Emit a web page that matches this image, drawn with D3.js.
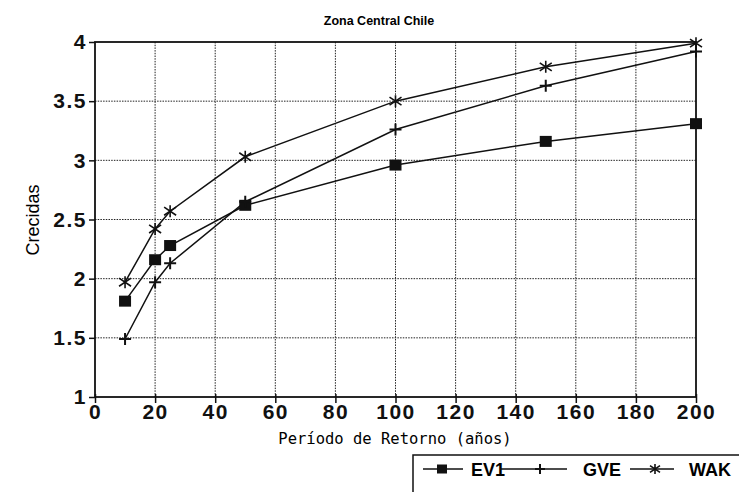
<!DOCTYPE html>
<html lang="es">
<head>
    <meta charset="UTF-8">
    <title>Zona Central Chile</title>
    <script src="https://d3js.org/d3.v7.min.js"></script>
    <style>
        body { margin: 0; background: #fff; }
        svg { display: block; }
        .tick-label { font-family: "Liberation Sans", Arial, sans-serif; font-weight: bold; font-size: 21px; fill: #111; }
        .grid line { stroke: #222; stroke-width: 1; stroke-dasharray: 1.5 1.2; }
    </style>
</head>
<body>
    <svg id="chart" width="739" height="492"></svg>
    <script>
        // Return periods (years)
        const periods = [10, 20, 25, 50, 100, 150, 200];
        // Flood values per method
        const ev1 = [1.81, 2.16, 2.28, 2.62, 2.96, 3.16, 3.31];
        const gve = [1.49, 1.97, 2.13, 2.65, 3.26, 3.63, 3.92];
        const wak = [1.97, 2.42, 2.57, 3.03, 3.50, 3.79, 3.99];
        const seriesNames = ["EV1", "GVE", "WAK"];
        const xTicks = [0, 20, 40, 60, 80, 100, 120, 140, 160, 180, 200];
        const yTicks = [1, 1.5, 2, 2.5, 3, 3.5, 4];

        const svg = d3.select("#chart");
        const margin = { left: 95, right: 43, top: 42, bottom: 95 };
        const width = 739 - margin.left - margin.right;
        const height = 492 - margin.top - margin.bottom;

        const x = d3.scaleLinear().domain([0, 200]).range([0, width]);
        const y = d3.scaleLinear().domain([1, 4]).range([height, 0]);

        const g = svg.append("g").attr("transform", `translate(${margin.left},${margin.top})`);

        // dotted grid
        const grid = g.append("g").attr("class", "grid");
        grid.selectAll("line.v").data(xTicks.slice(1, -1)).enter().append("line")
            .attr("x1", d => x(d)).attr("x2", d => x(d)).attr("y1", 0).attr("y2", height);
        grid.selectAll("line.h").data(yTicks.slice(1, -1)).enter().append("line")
            .attr("x1", 0).attr("x2", width).attr("y1", d => y(d)).attr("y2", d => y(d));

        // frame
        g.append("rect").attr("width", width).attr("height", height)
            .attr("fill", "none").attr("stroke", "#111").attr("stroke-width", 1.8);

        // axes
        const xAxis = g.append("g").attr("transform", `translate(0,${height})`)
            .call(d3.axisBottom(x).tickValues(xTicks).tickSize(6).tickPadding(1).tickFormat(d3.format("d")));
        const yAxis = g.append("g")
            .call(d3.axisLeft(y).tickValues(yTicks).tickSize(6).tickPadding(2).tickFormat(d => d));
        [xAxis, yAxis].forEach(a => {
            a.select(".domain").remove();
            a.selectAll(".tick line").attr("stroke", "#111").attr("stroke-width", 1.5);
            a.selectAll(".tick text").attr("class", "tick-label").attr("letter-spacing", "1.5px");
        });
        xAxis.selectAll(".tick line").attr("y1", -3);

        // lines
        const line = d3.line().x((d, i) => x(periods[i])).y(d => y(d));
        const allSeries = [ev1, gve, wak];
        allSeries.forEach(s => {
            g.append("path").datum(s).attr("d", line)
                .attr("fill", "none").attr("stroke", "#111").attr("stroke-width", 1.5);
        });

        // marker drawing
        function drawMarker(sel, type, cx, cy, r = 6) {
            if (type === "EV1") {
                sel.append("rect").attr("x", cx - r).attr("y", cy - r + 0.5).attr("width", 2 * r).attr("height", 2 * r - 1)
                    .attr("fill", "#111");
            } else if (type === "GVE") {
                sel.append("path").attr("d", `M${cx - r},${cy}H${cx + r}M${cx},${cy - r}V${cy + r}`)
                    .attr("stroke", "#111").attr("stroke-width", 2);
            } else {
                const k = r * 0.67;
                sel.append("path").attr("d",
                    `M${cx - r},${cy - k}L${cx + r},${cy + k}M${cx - r},${cy + k}L${cx + r},${cy - k}M${cx},${cy - r}V${cy + r}`)
                    .attr("stroke", "#111").attr("stroke-width", 1.6);
            }
        }
        allSeries.forEach((s, k) => {
            s.forEach((v, i) => drawMarker(g, seriesNames[k], x(periods[i]), y(v)));
        });

        // title
        svg.append("text").attr("x", 379).attr("y", 25).attr("text-anchor", "middle")
            .style("font-family", "'Liberation Sans', Arial, sans-serif").style("font-weight", "bold")
            .style("font-size", "12.5px").text("Zona Central Chile");

        // axis titles
        svg.append("text").attr("transform", "translate(39,220) rotate(-90)").attr("text-anchor", "middle")
            .style("font-family", "'Liberation Sans', Arial, sans-serif").style("font-size", "18px")
            .text("Crecidas");
        svg.append("text").attr("x", 395).attr("y", 444).attr("text-anchor", "middle")
            .style("font-family", "'DejaVu Sans Mono', monospace").style("font-size", "15.5px")
            .text("Período de Retorno (años)");

        // legend
        const leg = svg.append("g");
        leg.append("path").attr("d", "M413,492V455H739").attr("fill", "none")
            .attr("stroke", "#111").attr("stroke-width", 1.5);
        const legItems = [
            { name: "EV1", x0: 423, x1: 463, m: 442, t: 471 },
            { name: "GVE", x0: 500, x1: 567, m: 540, t: 583 },
            { name: "WAK", x0: 630, x1: 674, m: 655, t: 689 }
        ];
        legItems.forEach(d => {
            leg.append("line").attr("x1", d.x0).attr("x2", d.x1).attr("y1", 469).attr("y2", 469)
                .attr("stroke", "#111").attr("stroke-width", 1.5);
            drawMarker(leg, d.name, d.m, 469, 5);
            leg.append("text").attr("x", d.t).attr("y", 476)
                .style("font-family", "'Liberation Sans', Arial, sans-serif").style("font-weight", "bold")
                .style("font-size", "18px").text(d.name);
        });
    </script>
</body>
</html>
